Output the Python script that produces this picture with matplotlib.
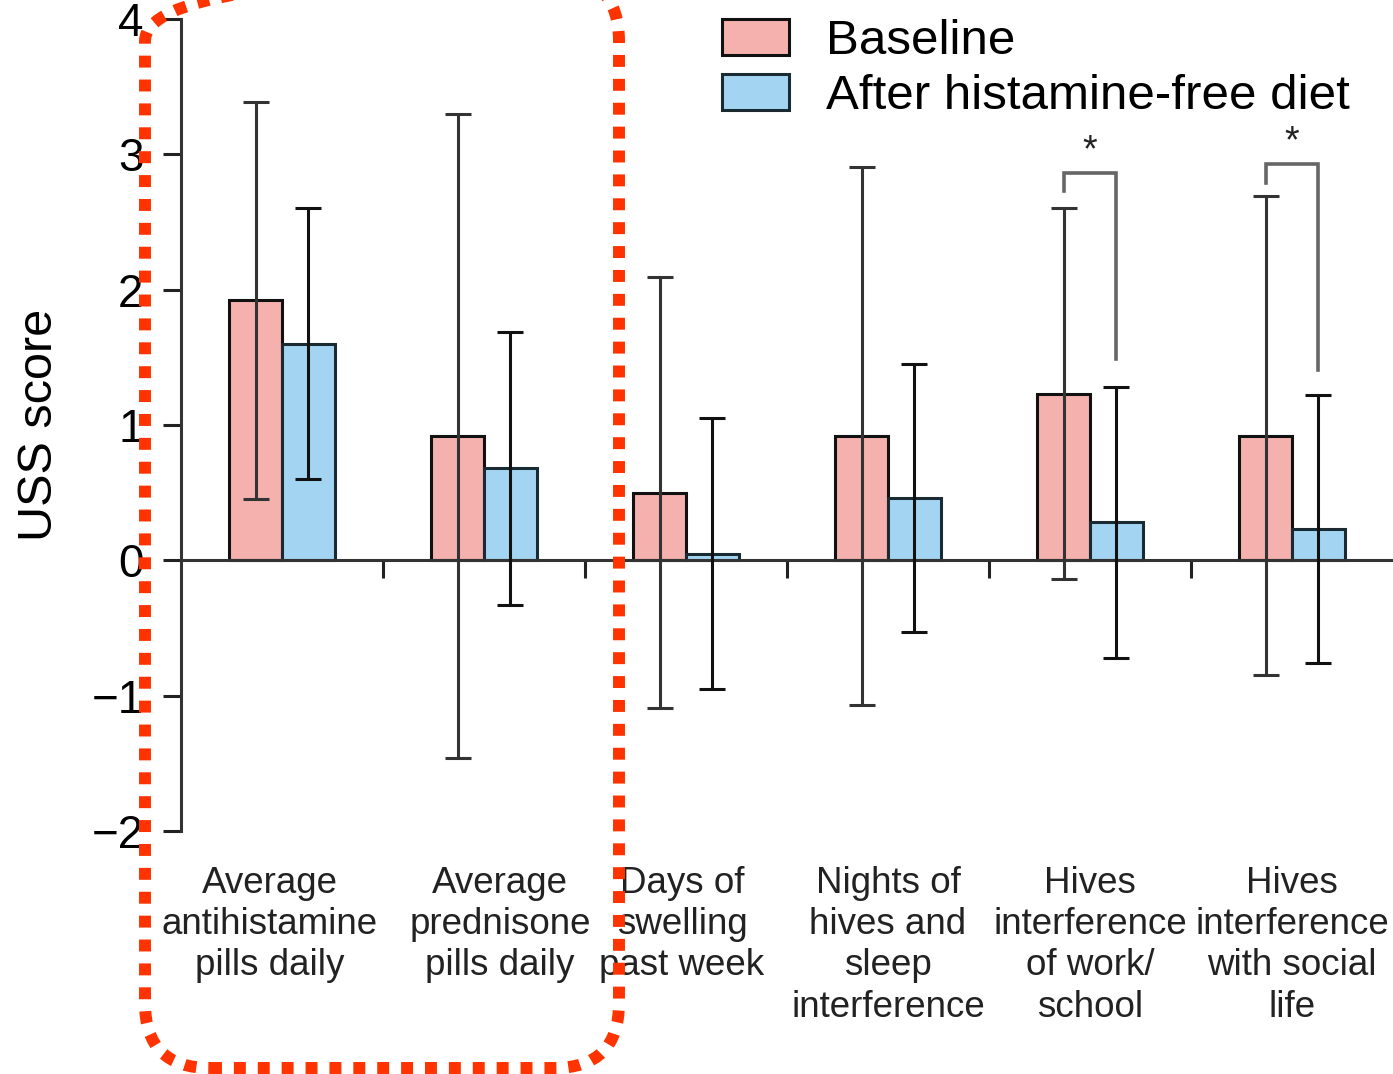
import matplotlib
matplotlib.use("Agg")
import matplotlib.pyplot as plt
import matplotlib.transforms as mtransforms
from matplotlib.patches import Patch, FancyBboxPatch
import numpy as np

plt.rcParams['font.family'] = ['Liberation Sans', 'DejaVu Sans']

categories = ['Average\nantihistamine\npills daily',
              'Average\nprednisone\npills daily',
              'Days of\nswelling\npast week',
              'Nights of\nhives and\nsleep\ninterference',
              'Hives\ninterference\nof work/\nschool',
              'Hives\ninterference\nwith social\nlife']
baseline = [1.92, 0.92, 0.50, 0.92, 1.23, 0.92]
baseline_sd = [1.47, 2.38, 1.59, 1.99, 1.37, 1.77]
after = [1.60, 0.68, 0.05, 0.46, 0.28, 0.23]
after_sd = [1.00, 1.01, 1.00, 0.99, 1.00, 0.99]

# significance brackets: (group index, top, left leg end, right leg end, star y)
sig_groups = [4, 5]
sig_top = [2.86, 2.93]
sig_left_end = [2.73, 2.79]
sig_right_end = [1.49, 1.41]
sig_star_y = [3.02, 3.09]

# small horizontal nudges of the category labels (in group units)
label_dx = [-0.06, 0.08, -0.02, 0.0, 0.0, 0.0]

pink = '#F4B1AE'
blue = '#A3D5F2'

fig = plt.figure(figsize=(13.93, 10.74), dpi=100)
ax = fig.add_axes([181 / 1393, 243 / 1074, 1212 / 1393, 812 / 1074])

x = np.arange(len(categories))
w = 0.26
ax.bar(x - w / 2, baseline, w, color=pink, edgecolor='#111111', linewidth=2.2, zorder=2)
ax.bar(x + w / 2, after, w, color=blue, edgecolor='#1a2a33', linewidth=2.2, zorder=2)
ax.errorbar(x - w / 2, baseline, yerr=baseline_sd, fmt='none', ecolor='#333333',
            elinewidth=2.2, capsize=9.5, capthick=2.2, zorder=3)
ax.errorbar(x + w / 2, after, yerr=after_sd, fmt='none', ecolor='#111111',
            elinewidth=2.2, capsize=9.5, capthick=2.2, zorder=3)

for g, top, le, re, sy in zip(sig_groups, sig_top, sig_left_end, sig_right_end, sig_star_y):
    xl, xr = g - w / 2, g + w / 2
    ax.plot([xl, xl, xr, xr], [le, top, top, re], color='#666666', lw=2.6,
            solid_joinstyle='miter', zorder=4)
    ax.text(g, sy, '*', ha='center', va='center', fontsize=27, color='#222222')

ax.set_xlim(-0.5, 5.5)
ax.set_ylim(-2, 4)
ax.set_yticks([-2, -1, 0, 1, 2, 3, 4])
ax.set_xticks(np.arange(0.5, 5, 1))
ax.set_xticklabels([])
ax.tick_params(axis='y', length=13, width=2.2, labelsize=33, pad=14, color='#222222')
ax.tick_params(axis='x', direction='out', length=13, width=2.2, color='#222222')
ax.spines['bottom'].set_position(('data', 0))
ax.spines['top'].set_visible(False)
ax.spines['right'].set_visible(False)
for s in ['left', 'bottom']:
    ax.spines[s].set_linewidth(2.2)
    ax.spines[s].set_color('#333333')

ax.set_ylabel('USS score', fontsize=35)
ax.yaxis.set_label_coords(-0.098, 0.5)

trans = mtransforms.blended_transform_factory(ax.transData, ax.transAxes)
for i, lab in enumerate(categories):
    ax.text(i + label_dx[i], -0.043, lab, transform=trans, ha='center', va='top',
            fontsize=26.5, linespacing=1.23, color='#222222')

handles = [Patch(facecolor=pink, edgecolor='#111111', linewidth=2.2),
           Patch(facecolor=blue, edgecolor='#1a2a33', linewidth=2.2)]
fig.legend(handles, ['Baseline', 'After histamine-free diet'],
           loc='upper left', bbox_to_anchor=(722 / 1393, 1 - 19 / 1074),
           frameon=False, fontsize=35.5, borderpad=0, borderaxespad=0,
           handlelength=1.35, handleheight=0.75, handletextpad=0.75, labelspacing=0.2)

# red dotted rounded frame around the first two groups
frame = FancyBboxPatch((1.45, 0.06), 4.74, 10.92,
                       boxstyle='round,pad=0,rounding_size=0.65',
                       transform=fig.dpi_scale_trans, fill=False,
                       edgecolor='#FF3300', linewidth=8.6, linestyle=(0, (1, 1)),
                       zorder=10, clip_on=False)
frame.set_capstyle('butt')
fig.add_artist(frame)

fig.savefig('out.png', dpi=100)
